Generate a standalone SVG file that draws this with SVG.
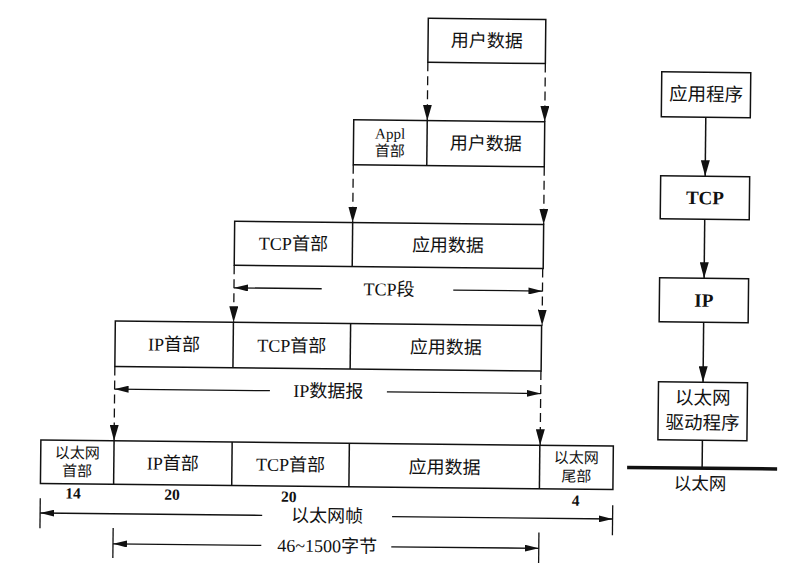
<svg xmlns="http://www.w3.org/2000/svg" width="791" height="574" viewBox="0 0 791 574">
<style>
  .box { fill: #fff; stroke: #111; stroke-width: 1.5; }
  .div { stroke: #111; stroke-width: 1.5; }
  .dash { stroke: #111; stroke-width: 1.3; stroke-dasharray: 9 5; fill: none; }
  .dim { stroke: #111; stroke-width: 1.3; fill: none; }
  .sol { stroke: #111; stroke-width: 1.5; fill: none; }
  text { font-family: "Liberation Serif", "Noto Sans CJK SC", serif; fill: #111; text-anchor: middle; dominant-baseline: central; }
  .t { font-size: 18px; }
  .s { font-size: 15px; }
  .n { font-size: 15.5px; font-weight: bold; }
  .b { font-size: 19px; font-weight: bold; }
</style>
<defs>
  <marker id="ad" markerUnits="userSpaceOnUse" markerWidth="16" markerHeight="9" refX="16" refY="4.5" orient="auto">
    <path d="M0,0 L16,4.5 L0,9 z" fill="#111"/>
  </marker>
  <marker id="ah" markerUnits="userSpaceOnUse" markerWidth="14" markerHeight="7" refX="14" refY="3.5" orient="auto">
    <path d="M0,0 L14,3.5 L0,7 z" fill="#111"/>
  </marker>
  <marker id="as" markerUnits="userSpaceOnUse" markerWidth="16" markerHeight="9" refX="16" refY="4.5" orient="auto">
    <path d="M0,0 L16,4.5 L0,9 z" fill="#111"/>
  </marker>
</defs>
<rect width="791" height="574" fill="#fff"/>
<g transform="rotate(0.6 395 287)">
  <g id="row1">
    <rect class="box" x="425.5" y="18" width="117.5" height="44"/>
    <text class="t" x="484.3" y="40">用户数据</text>
  </g>
  <g id="row2">
    <rect class="box" x="352" y="120.3" width="191" height="45"/>
    <line class="div" x1="425.5" y1="120.3" x2="425.5" y2="165.3"/>
    <text class="s" x="388.5" y="133.8">Appl</text>
    <text class="s" x="388.5" y="151.2">首部</text>
    <text class="t" x="484.3" y="142.8">用户数据</text>
  </g>
  <g id="row3">
    <rect class="box" x="234" y="223" width="309" height="44"/>
    <line class="div" x1="352" y1="223" x2="352" y2="267"/>
    <text class="t" x="293" y="245">TCP首部</text>
    <text class="t" x="447.5" y="245">应用数据</text>
  </g>
  <g id="row4">
    <rect class="box" x="115.7" y="324" width="426.3" height="45.5"/>
    <line class="div" x1="233.8" y1="324" x2="233.8" y2="369.5"/>
    <line class="div" x1="351" y1="324" x2="351" y2="369.5"/>
    <text class="t" x="174.8" y="347">IP首部</text>
    <text class="t" x="292.4" y="347">TCP首部</text>
    <text class="t" x="446.5" y="347">应用数据</text>
  </g>
  <g id="row5">
    <rect class="box" x="42.5" y="443.7" width="572.5" height="43.5"/>
    <line class="div" x1="115.7" y1="443.7" x2="115.7" y2="487.2"/>
    <line class="div" x1="233.8" y1="443.7" x2="233.8" y2="487.2"/>
    <line class="div" x1="351" y1="443.7" x2="351" y2="487.2"/>
    <line class="div" x1="541.5" y1="443.7" x2="541.5" y2="487.2"/>
    <text class="s" x="79" y="456.5">以太网</text>
    <text class="s" x="79" y="474.5">首部</text>
    <text class="t" x="174.8" y="466">IP首部</text>
    <text class="t" x="292.4" y="466">TCP首部</text>
    <text class="t" x="446.5" y="467">应用数据</text>
    <text class="s" x="578.2" y="456">以太网</text>
    <text class="s" x="578.2" y="474.7">尾部</text>
    <text class="n" x="75.2" y="496.4">14</text>
    <text class="n" x="174.2" y="496.6">20</text>
    <text class="n" x="291" y="497.5">20</text>
    <text class="n" x="578" y="498.5">4</text>
  </g>
  <g id="stack-app">
    <rect class="box" x="659.5" y="69" width="89" height="45"/>
    <text class="t" x="704" y="91.5" style="font-size:18.5px">应用程序</text>
  </g>
  <g id="stack-tcp">
    <rect class="box" x="659.5" y="173" width="89" height="43"/>
    <text class="b" x="704" y="194.5">TCP</text>
  </g>
  <g id="stack-ip">
    <rect class="box" x="659.5" y="275" width="89" height="44"/>
    <text class="b" x="704" y="297">IP</text>
  </g>
  <g id="stack-eth">
    <rect class="box" x="659.5" y="379" width="89" height="58"/>
    <text class="t" x="704" y="395" style="font-size:18.5px">以太网</text>
    <text class="t" x="704" y="420" style="font-size:18.5px">驱动程序</text>
  </g>
  <g id="ethernet">
    <line x1="629" y1="465" x2="779" y2="465" stroke="#111" stroke-width="3.5"/>
    <text class="t" x="702" y="480.5" style="font-size:17.5px">以太网</text>
  </g>
  <g id="connectors">
    <line class="dash" x1="425.5" y1="62" x2="425.5" y2="120.3" marker-end="url(#ad)"/>
    <line class="dash" x1="543" y1="62" x2="543" y2="120.3" marker-end="url(#ad)"/>
    <line class="dash" x1="352" y1="165.3" x2="352" y2="223" marker-end="url(#ad)"/>
    <line class="dash" x1="543" y1="165.3" x2="543" y2="223" marker-end="url(#ad)"/>
    <line class="dash" x1="234" y1="267" x2="234" y2="324" marker-end="url(#ad)"/>
    <line class="dash" x1="542.5" y1="267" x2="542.5" y2="324" marker-end="url(#ad)"/>
    <line class="dash" x1="115.7" y1="369.5" x2="115.7" y2="443.7" marker-end="url(#ad)"/>
    <line class="dash" x1="541.8" y1="369.5" x2="541.8" y2="443.7" marker-end="url(#ad)"/>

    <line class="dim" x1="321.7" y1="289.5" x2="234" y2="289.5" marker-end="url(#ah)"/>
    <line class="dim" x1="453.3" y1="289.5" x2="542.5" y2="289.5" marker-end="url(#ah)"/>
    <text class="t" x="389" y="289.5">TCP段</text>

    <line class="dim" x1="271" y1="392" x2="115.7" y2="392" marker-end="url(#ah)"/>
    <line class="dim" x1="388" y1="392" x2="541.8" y2="392" marker-end="url(#ah)"/>
    <text class="t" x="329.5" y="392">IP数据报</text>

    <line class="dim" x1="42.5" y1="502" x2="42.5" y2="532"/>
    <line class="dim" x1="615" y1="503" x2="615" y2="533"/>
    <line class="dim" x1="264.6" y1="516.7" x2="42.5" y2="516.7" marker-end="url(#ah)"/>
    <line class="dim" x1="394.5" y1="516.7" x2="615" y2="516.7" marker-end="url(#ah)"/>
    <text class="t" x="329.5" y="516.7">以太网帧</text>

    <line class="dim" x1="115.7" y1="531" x2="115.7" y2="561"/>
    <line class="dim" x1="541.5" y1="531" x2="541.5" y2="561.5"/>
    <line class="dim" x1="264" y1="546.8" x2="115.7" y2="546.8" marker-end="url(#ah)"/>
    <line class="dim" x1="394" y1="546.8" x2="541.5" y2="546.8" marker-end="url(#ah)"/>
    <text class="t" x="329.8" y="546.8">46~1500字节</text>

    <line class="sol" x1="704" y1="114" x2="704" y2="173" marker-end="url(#as)"/>
    <line class="sol" x1="704" y1="216" x2="704" y2="275" marker-end="url(#as)"/>
    <line class="sol" x1="704" y1="319" x2="704" y2="379" marker-end="url(#as)"/>
    <line class="sol" x1="704" y1="437" x2="704" y2="465"/>
  </g>
</g>
</svg>
